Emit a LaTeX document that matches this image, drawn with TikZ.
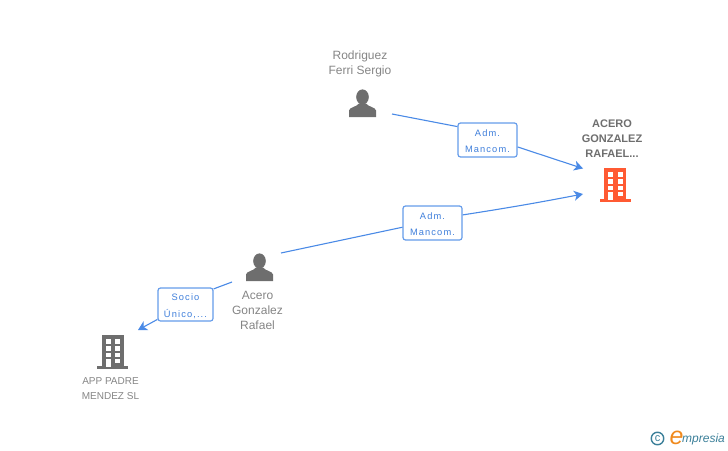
\documentclass[tikz,border=0pt]{standalone}
\usepackage{fontspec}
\setmainfont{Liberation Sans}
\newfontfamily\tagfont[LetterSpace=12]{Liberation Sans}
\usetikzlibrary{arrows.meta}
\definecolor{edgeblue}{HTML}{4A8AE6}
\definecolor{tagblue}{HTML}{3F7FDB}
\definecolor{namegrey}{HTML}{858585}
\definecolor{icongrey}{HTML}{6E6E6E}
\definecolor{iconorange}{HTML}{FF5A33}
\definecolor{logoteal}{HTML}{3B7F99}
\definecolor{logoorange}{HTML}{F08A1E}
\tikzset{
  bigname/.style={text=namegrey,align=center,font=\fontsize{12}{15}\selectfont},
  smallname/.style={text=namegrey,align=center,font=\fontsize{10}{15}\selectfont},
  mainname/.style={text=icongrey,align=center,font=\fontsize{11}{15}\selectfont\bfseries},
  tagbox/.style={draw=edgeblue!85,line width=1.2pt,rounded corners=2.5pt,fill=white,text=tagblue,
    align=center,font=\fontsize{9.3}{16.5}\selectfont\tagfont,minimum width=59pt,minimum height=34pt,inner sep=0pt,text depth=0pt},
  link/.style={draw=edgeblue,line width=1.1pt},
  linkto/.style={link,-{Stealth[length=9pt,width=10pt,inset=2.5pt]}},
  person/.pic={
    \fill[icongrey] (0,-6.5) ellipse (6.3pt and 7.6pt);
    \fill[icongrey] (-13.5,13.5) -- (-13.5,7) .. controls (-13,3.5) and (-6,3.5) .. (-3.5,0)
      -- (3.5,0) .. controls (6,3.5) and (13,3.5) .. (13.5,7) -- (13.5,13.5) -- cycle;
  },
  building/.pic={
    \fill[#1] (-11,-16.5) rectangle (11,15);
    \fill[#1] (-15.5,14.5) rectangle (15.5,17);
    \foreach \wy in {-12.5,-5.5,1,7.2}
      \fill[white] (-7,\wy) rectangle (-2,\wy+4.5);
    \foreach \wy in {-12.5,-5.5,1,7.2}
      \fill[white] (2.7,\wy) rectangle (7.7,\wy+4.5);
    \fill[white] (-7,7.2) rectangle (-2,15);
  }
}
\begin{document}
\begin{tikzpicture}[x=1pt,y=-1pt]
  \useasboundingbox (0,0) rectangle (728,450);
  % people and companies
  \node[bigname] (rodriguez) at (360,64) {Rodriguez\\Ferri Sergio};
  \pic at (362.5,103.5) {person};
  \node[bigname] (acero) at (257.5,310) {Acero\\Gonzalez\\Rafael};
  \pic at (259.5,267.5) {person};
  \node[mainname] (target) at (612,139) {ACERO\\GONZALEZ\\RAFAEL...};
  \pic at (615,184.5) {building=iconorange};
  \node[smallname] (app) at (110.5,389) {APP PADRE\\MENDEZ SL};
  \pic at (112.5,351.5) {building=icongrey};
  % free ends of the links
  \coordinate (rodOut) at (392,114);
  \coordinate (aceOut) at (281,253);
  \coordinate (aceOutB) at (232,282);
  \coordinate (tarInA) at (583,168.5);
  \coordinate (tarInB) at (583,194);
  \coordinate (appIn) at (138,330);
  % labels
  \node[tagbox] (admA) at (487.5,140) {\rule{0pt}{9pt}Adm.\\Mancom.};
  \node[tagbox] (admB) at (432.5,223) {\rule{0pt}{9pt}Adm.\\Mancom.};
  \node[tagbox,minimum width=55pt,minimum height=33pt] (socio) at (185.5,304.5) {\rule{0pt}{9pt}Socio\\Único,...};
  % links
  \draw[link] (rodOut) -- (admA.156);
  \draw[linkto] (admA.-13) -- (tarInA);
  \draw[link] (aceOut) -- (admB.188);
  \draw[linkto] (admB.15) to[bend right=1] (tarInB);
  \draw[link] (aceOutB) -- (socio.29);
  \draw[linkto] (socio.208) -- (appIn);
  % logo
  \node[draw=logoteal,line width=1.4pt,circle,inner sep=0pt,minimum size=12.5pt,text=logoteal,
    font=\fontsize{11}{11}\selectfont] (copy) at (657.5,438.5) {c};
  \node[text=logoorange,inner sep=0pt,font=\fontsize{25}{25}\selectfont\itshape] (logoE) at (676.5,437.5) {e};
  \node[text=logoteal,inner sep=0pt,anchor=base west,font=\fontsize{12}{12}\selectfont\itshape] (logoText) at (682,442.5) {mpresia};
\end{tikzpicture}
\end{document}
